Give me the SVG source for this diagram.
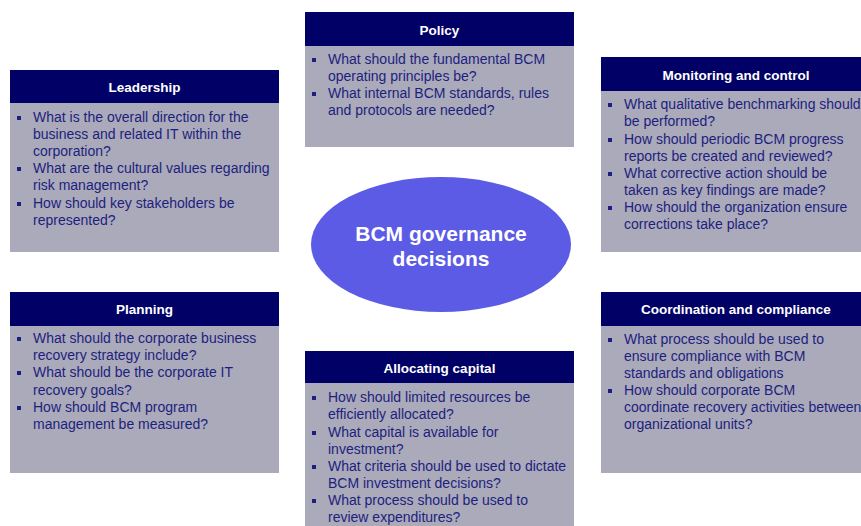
<svg xmlns="http://www.w3.org/2000/svg" width="861" height="526" viewBox="0 0 861 526">
<style>
.hd{fill:#000066}
.bd{fill:#aaaaba}
.ht{font-family:"Liberation Sans",Arial,sans-serif;font-weight:bold;font-size:13.5px;fill:#ffffff;text-anchor:middle}
.tx{font-family:"Liberation Sans",Arial,sans-serif;font-size:14px;fill:#1e1e7e}
.bl{fill:#1e1e7e}
.ct{font-family:"Liberation Sans",Arial,sans-serif;font-weight:bold;font-size:21px;fill:#ffffff;text-anchor:middle}
</style>
<rect width="861" height="526" fill="#ffffff"/>
<g id="connectors"></g>

<g id="leadership">
<rect class="bd" x="10" y="70" width="269" height="182"/>
<rect class="hd" x="10" y="70" width="269" height="33"/>
<text class="ht" x="144.5" y="92">Leadership</text>
<rect class="bl" x="17" y="116" width="4" height="4"/>
<rect class="bl" x="17" y="167" width="4" height="4"/>
<rect class="bl" x="17" y="202" width="4" height="4"/>
<text class="tx"><tspan x="33" y="122">What is the overall direction for the</tspan><tspan x="33" y="139">business and related IT within the</tspan><tspan x="33" y="156">corporation?</tspan><tspan x="33" y="173">What are the cultural values regarding</tspan><tspan x="33" y="190">risk management?</tspan><tspan x="33" y="208">How should key stakeholders be</tspan><tspan x="33" y="225">represented?</tspan></text>
</g>

<g id="policy">
<rect class="bd" x="305" y="12" width="269" height="135"/>
<rect class="hd" x="305" y="12" width="269" height="34"/>
<text class="ht" x="439.5" y="35">Policy</text>
<rect class="bl" x="312" y="58" width="4" height="4"/>
<rect class="bl" x="312" y="92" width="4" height="4"/>
<text class="tx"><tspan x="328" y="64">What should the fundamental BCM</tspan><tspan x="328" y="81">operating principles be?</tspan><tspan x="328" y="98">What internal BCM standards, rules</tspan><tspan x="328" y="115">and protocols are needed?</tspan></text>
</g>

<g id="monitoring">
<rect class="bd" x="601" y="57" width="260" height="195"/>
<rect class="hd" x="601" y="57" width="260" height="34"/>
<text class="ht" x="736" y="80">Monitoring and control</text>
<rect class="bl" x="608" y="103" width="4" height="4"/>
<rect class="bl" x="608" y="138" width="4" height="4"/>
<rect class="bl" x="608" y="172" width="4" height="4"/>
<rect class="bl" x="608" y="206" width="4" height="4"/>
<text class="tx"><tspan x="624" y="109">What qualitative benchmarking should</tspan><tspan x="624" y="126">be performed?</tspan><tspan x="624" y="144">How should periodic BCM progress</tspan><tspan x="624" y="161">reports be created and reviewed?</tspan><tspan x="624" y="178">What corrective action should be</tspan><tspan x="624" y="195">taken as key findings are made?</tspan><tspan x="624" y="212">How should the organization ensure</tspan><tspan x="624" y="229">corrections take place?</tspan></text>
</g>

<g id="center">
<ellipse cx="441" cy="244.5" rx="130" ry="67.5" fill="#5b5be6"/>
<text class="ct"><tspan x="441" y="241">BCM governance</tspan><tspan x="441" y="266">decisions</tspan></text>
</g>

<g id="planning">
<rect class="bd" x="10" y="292" width="269" height="181"/>
<rect class="hd" x="10" y="292" width="269" height="34"/>
<text class="ht" x="144.5" y="314">Planning</text>
<rect class="bl" x="17" y="337" width="4" height="4"/>
<rect class="bl" x="17" y="371" width="4" height="4"/>
<rect class="bl" x="17" y="406" width="4" height="4"/>
<text class="tx"><tspan x="33" y="343">What should the corporate business</tspan><tspan x="33" y="360">recovery strategy include?</tspan><tspan x="33" y="377">What should be the corporate IT</tspan><tspan x="33" y="395">recovery goals?</tspan><tspan x="33" y="412">How should BCM program</tspan><tspan x="33" y="429">management be measured?</tspan></text>
</g>

<g id="allocating">
<rect class="bd" x="305" y="351" width="269" height="175"/>
<rect class="hd" x="305" y="351" width="269" height="32"/>
<text class="ht" x="439.5" y="373">Allocating capital</text>
<rect class="bl" x="312" y="396" width="4" height="4"/>
<rect class="bl" x="312" y="431" width="4" height="4"/>
<rect class="bl" x="312" y="465" width="4" height="4"/>
<rect class="bl" x="312" y="499" width="4" height="4"/>
<text class="tx"><tspan x="328" y="402">How should limited resources be</tspan><tspan x="328" y="419">efficiently allocated?</tspan><tspan x="328" y="437">What capital is available for</tspan><tspan x="328" y="454">investment?</tspan><tspan x="328" y="471">What criteria should be used to dictate</tspan><tspan x="328" y="488">BCM investment decisions?</tspan><tspan x="328" y="505">What process should be used to</tspan><tspan x="328" y="522">review expenditures?</tspan></text>
</g>

<g id="coordination">
<rect class="bd" x="601" y="292" width="260" height="181"/>
<rect class="hd" x="601" y="292" width="260" height="34"/>
<text class="ht" x="736" y="314">Coordination and compliance</text>
<rect class="bl" x="608" y="338" width="4" height="4"/>
<rect class="bl" x="608" y="389" width="4" height="4"/>
<text class="tx"><tspan x="624" y="344">What process should be used to</tspan><tspan x="624" y="361">ensure compliance with BCM</tspan><tspan x="624" y="378">standards and obligations</tspan><tspan x="624" y="395">How should corporate BCM</tspan><tspan x="624" y="412">coordinate recovery activities between</tspan><tspan x="624" y="429">organizational units?</tspan></text>
</g>
</svg>
